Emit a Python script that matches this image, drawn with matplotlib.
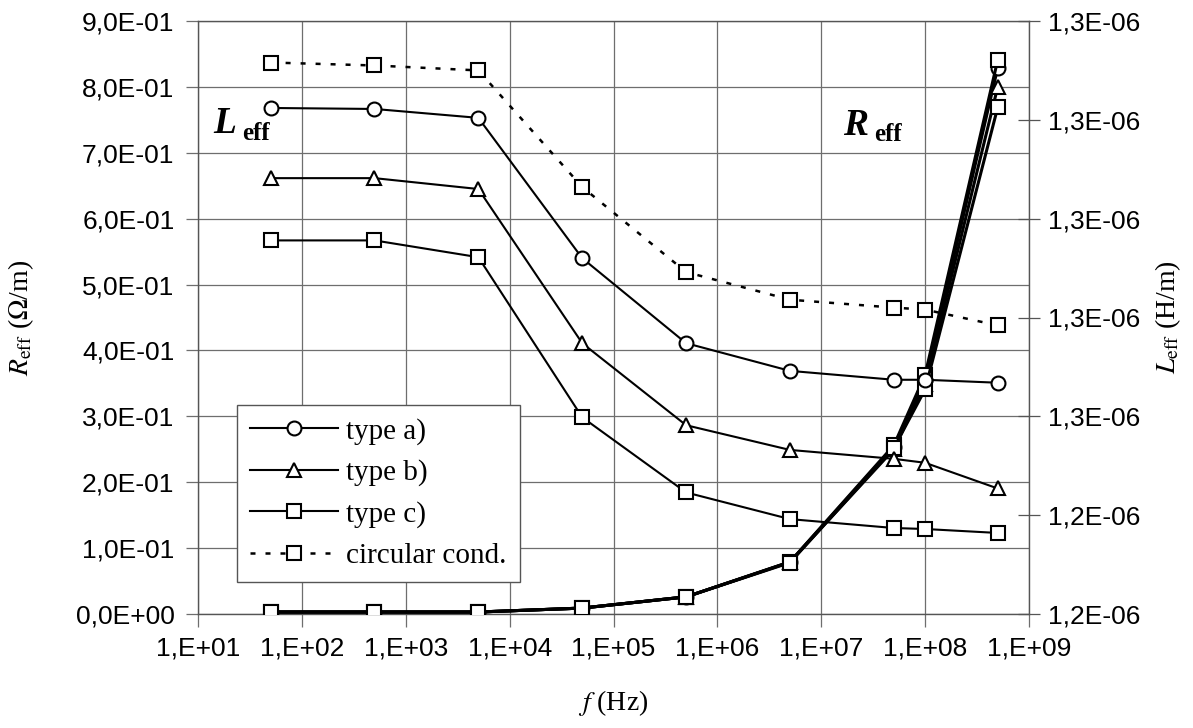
import matplotlib.pyplot as plt
from matplotlib.ticker import FuncFormatter, NullLocator, FixedLocator
import numpy as np

plt.rcParams['font.family'] = ['Liberation Sans', 'DejaVu Sans']
plt.rcParams['mathtext.fontset'] = 'stix'

# frequencies (Hz)
freq = [5e1, 5e2, 5e3, 5e4, 5e5, 5e6, 5e7, 1e8, 5e8]

# effective inductance (H/m), right axis
L_a = [1.2812e-6, 1.2811e-6, 1.2802e-6, 1.2660e-6, 1.2574e-6, 1.2546e-6, 1.2537e-6, 1.2537e-6, 1.2534e-6]
L_b = [1.2741e-6, 1.2741e-6, 1.2730e-6, 1.2574e-6, 1.2491e-6, 1.2466e-6, 1.2457e-6, 1.2453e-6, 1.2427e-6]
L_c = [1.2678e-6, 1.2678e-6, 1.2661e-6, 1.2499e-6, 1.2423e-6, 1.2396e-6, 1.2387e-6, 1.2386e-6, 1.2382e-6]
L_circ = [1.2858e-6, 1.2855e-6, 1.2850e-6, 1.2732e-6, 1.2646e-6, 1.2618e-6, 1.2610e-6, 1.2608e-6, 1.2592e-6]

# effective resistance (ohm/m), left axis
R_a = [0.003, 0.003, 0.003, 0.009, 0.026, 0.079, 0.254, 0.355, 0.829]
R_b = [0.003, 0.003, 0.003, 0.009, 0.026, 0.079, 0.250, 0.349, 0.800]
R_c = [0.003, 0.003, 0.003, 0.009, 0.026, 0.079, 0.256, 0.363, 0.841]
R_circ = [0.003, 0.003, 0.003, 0.009, 0.026, 0.078, 0.252, 0.341, 0.769]

left_ticks = [0.0, 0.1, 0.2, 0.3, 0.4, 0.5, 0.6, 0.7, 0.8, 0.9]
right_ticks = [1.23e-6, 1.24e-6, 1.25e-6, 1.26e-6, 1.27e-6, 1.28e-6, 1.29e-6]
right_labels = ['1,2E-06', '1,2E-06', '1,3E-06', '1,3E-06', '1,3E-06', '1,3E-06', '1,3E-06']
x_ticks = [1e1, 1e2, 1e3, 1e4, 1e5, 1e6, 1e7, 1e8, 1e9]

W, H = 1193, 728
fig = plt.figure(figsize=(W / 100, H / 100), dpi=100)
ax = fig.add_axes([198 / W, 1 - 614 / H, (1029 - 198) / W, (614 - 21) / H])
ax2 = ax.twinx()

grid_c = '#6e6e6e'
ax.set_xscale('log')
ax.set_xlim(1e1, 1e9)
ax.set_ylim(0, 0.9)
ax.xaxis.set_major_locator(FixedLocator(x_ticks))
ax.xaxis.set_minor_locator(NullLocator())
ax.set_yticks(left_ticks)
ax.xaxis.set_major_formatter(FuncFormatter(lambda v, p: f"{v:.0E}".replace('E', ',E')))
ax.yaxis.set_major_formatter(FuncFormatter(lambda v, p: f"{v:.1E}".replace('.', ',')))
ax.grid(True, color=grid_c, lw=0.9)
ax.tick_params(axis='both', direction='out', length=9, width=0.9, color=grid_c,
               labelsize=19)
ax.tick_params(axis='y', pad=8)
ax.tick_params(axis='x', pad=7)
for s in ax.spines.values():
    s.set_color('#555555')
    s.set_linewidth(1.0)

ax2.set_ylim(1.23e-6, 1.29e-6)
ax2.set_yticks(right_ticks)
ax2.set_yticklabels(right_labels)
ax2.tick_params(axis='y', direction='inout', length=16, width=0.9, color='#555555',
                labelsize=19, pad=6)
for s in ax2.spines.values():
    s.set_visible(False)

mk = dict(ms=10, mfc='white', mec='black', mew=1.5)

# R curves (thick)
ax.plot(freq, R_a, '-', color='black', lw=2.2, marker='o', **mk, zorder=3)
ax.plot(freq, R_b, '-', color='black', lw=2.2, marker='^', **mk, zorder=3)
ax.plot(freq, R_c, '-', color='black', lw=2.2, marker='s', **mk, zorder=3)
ax.plot(freq, R_circ, '-', color='black', lw=2.2, marker='s', **mk, zorder=3)

# L curves
la, = ax2.plot(freq, L_a, '-', color='black', lw=1.5, marker='o', **mk, label='type a)')
lb, = ax2.plot(freq, L_b, '-', color='black', lw=1.5, marker='^', **mk, label='type b)')
lc, = ax2.plot(freq, L_c, '-', color='black', lw=1.5, marker='s', **mk, label='type c)')
ld, = ax2.plot(freq, L_circ, color='black', lw=1.8, ls=(0, (2, 4)), marker='s', **mk,
               label='circular cond.')

leg = ax2.legend(handles=[la, lb, lc, ld], loc='lower left', bbox_to_anchor=(0.047, 0.054),
                 borderaxespad=0, fancybox=False, framealpha=1, edgecolor='#555555',
                 handlelength=3.0, handletextpad=0.3, labelspacing=0.5, borderpad=0.45,
                 prop={'family': 'Liberation Serif', 'size': 21})
leg.get_frame().set_linewidth(1.0)

serif = 'Liberation Serif'
ax.set_ylabel(r'$R_{\mathrm{eff}}$ ($\Omega$/m)', fontsize=20, family=serif)
ax.yaxis.set_label_coords(-0.195, 0.5)
ax2.set_ylabel(r'$L_{\mathrm{eff}}$ (H/m)', fontsize=20, family=serif, rotation=90)
ax2.yaxis.set_label_coords(1.150, 0.5)
ax.set_xlabel(r'$f$ (Hz)', fontsize=20, family=serif)
ax.xaxis.set_label_coords(0.5, -0.125)

fig.text(213 / W, 1 - 133 / H, 'L', family=serif, style='italic', weight='bold', fontsize=27)
fig.text(242 / W, 1 - 140 / H, 'eff', family=serif, weight='bold', fontsize=18)
fig.text(843 / W, 1 - 135 / H, 'R', family=serif, style='italic', weight='bold', fontsize=27)
fig.text(874 / W, 1 - 141 / H, 'eff', family=serif, weight='bold', fontsize=18)

fig.savefig('out.png', dpi=100)
